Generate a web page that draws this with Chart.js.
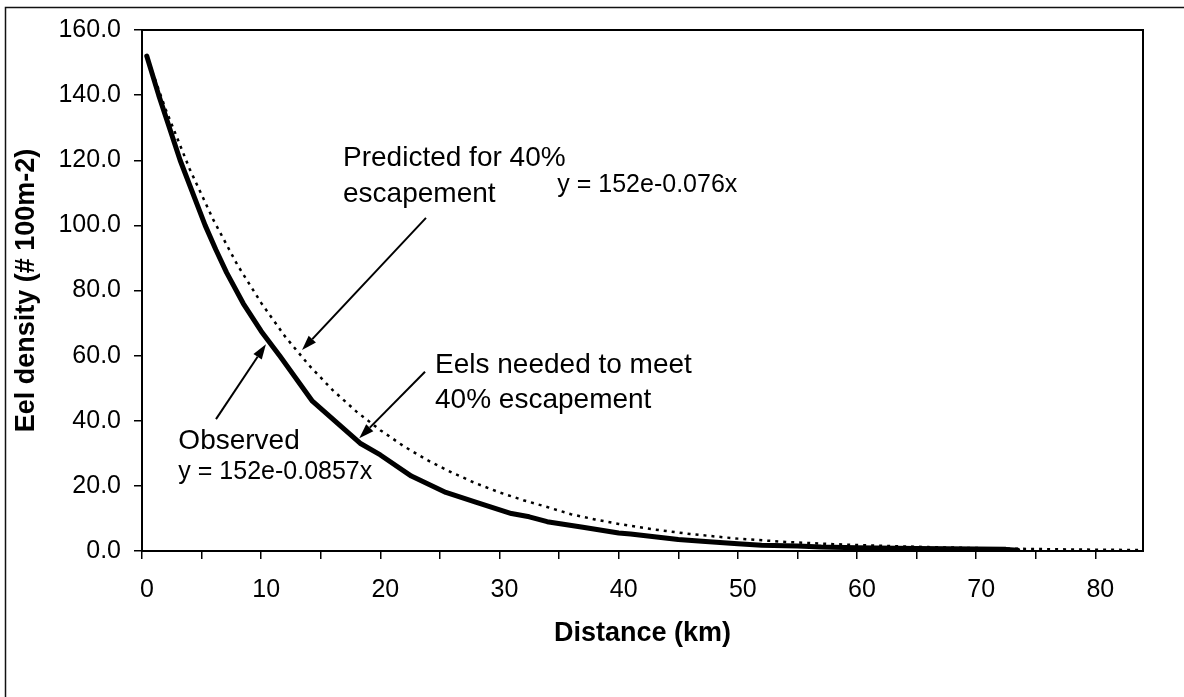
<!DOCTYPE html>
<html><head><meta charset="utf-8">
<script src="https://cdn.jsdelivr.net/npm/chart.js@4.4.1/dist/chart.umd.min.js"></script>
<style>html,body{margin:0;padding:0;background:#fff;overflow:hidden}canvas{display:block}</style>
</head><body>
<canvas id="c" width="1184" height="697"></canvas>
<script>
// Observed eel density (km, #/100m2)
const obsDistance = [0.4, 1.4, 3.2, 5.3, 6.2, 7.1, 8.5, 10, 11.6, 14.3, 18.3, 20, 22.6, 25.5, 28, 31, 32.5, 34, 37, 40, 41, 43, 45, 47, 48.5, 50, 52, 55, 57, 60, 65, 70, 72.5, 73.5];
const obsDensity  = [152, 140, 120, 100, 92.5, 85.5, 76, 67.5, 59.7, 46, 33.1, 29.5, 23, 18, 15, 11.5, 10.5, 9, 7.3, 5.5, 5.2, 4.4, 3.5, 3, 2.6, 2.2, 1.8, 1.5, 1.2, 1, 0.8, 0.6, 0.5, 0.2];
// Predicted density for 40% escapement
const predDistance = [0.4, 2, 4, 6, 8, 10, 12, 14, 16, 18, 20, 22, 24, 26, 28, 30, 32, 34, 36, 38, 40, 43, 46, 50, 54, 58, 62, 66, 70, 75, 80, 84];
const predDensity  = [152, 135.5, 117.3, 101.6, 87.9, 76.2, 65.9, 57.1, 49.4, 42.8, 37.1, 32.1, 27.8, 24.1, 20.8, 18.0, 15.6, 13.5, 11.3, 9.7, 8.3, 6.6, 5.2, 3.8, 2.8, 2.1, 1.6, 1.2, 0.9, 0.6, 0.4, 0.3];

const xLabelStep = 10;
const yTickLabels = ['0.0','20.0','40.0','60.0','80.0','100.0','120.0','140.0','160.0'];

const FONT = '"Liberation Sans", Arial, sans-serif';

// annotations in data coordinates (left/baseline of text)
const noteTexts = [
  {text:'Predicted for 40%', x:16.87, y:118.2, size:28},
  {text:'escapement', x:16.87, y:107.3, size:28},
  {text:'y = 152e-0.076x', x:34.85, y:110.35, size:25},
  {text:'Eels needed to meet', x:24.59, y:54.6, size:28},
  {text:'40% escapement', x:24.59, y:43.8, size:28},
  {text:'Observed', x:3.05, y:31.2, size:28},
  {text:'y = 152e-0.0857x', x:3.05, y:22.1, size:25}
];
const noteArrows = [
  {from:[23.83,102.3], to:[13.43,61.7]},
  {from:[23.75,55.07], to:[18.23,34.6]},
  {from:[6.21,40.5], to:[10.4,63.5]}
];

const obsData = obsDistance.map((x,i)=>({x, y:obsDensity[i]}));
const predData = predDistance.map((x,i)=>({x, y:predDensity[i]}));

const decor = {
  id:'decor',
  afterDatasetsDraw(chart){
    const {ctx, chartArea:a, scales:{x, y}} = chart;
    ctx.save();
    ctx.strokeStyle='#000'; ctx.lineWidth=2;
    ctx.strokeRect(a.left, a.top, a.right-a.left, a.bottom-a.top);
    ctx.lineWidth=1.5; ctx.strokeStyle='#111';
    ctx.beginPath(); ctx.moveTo(5.5, 1000); ctx.lineTo(5.5, 7.5); ctx.lineTo(1300, 7.5); ctx.stroke();
    ctx.fillStyle='#000'; ctx.textBaseline='alphabetic'; ctx.textAlign='left';
    noteTexts.forEach(t=>{
      ctx.font = t.size+'px '+FONT;
      ctx.fillText(t.text, x.getPixelForValue(t.x), y.getPixelForValue(t.y));
    });
    ctx.lineWidth=2; ctx.strokeStyle='#000';
    noteArrows.forEach(ar=>{
      const x1=x.getPixelForValue(ar.from[0]), y1=y.getPixelForValue(ar.from[1]);
      const x2=x.getPixelForValue(ar.to[0]), y2=y.getPixelForValue(ar.to[1]);
      const ang=Math.atan2(y2-y1,x2-x1), L=15, W=5;
      const bx=x2-L*Math.cos(ang), by=y2-L*Math.sin(ang);
      ctx.beginPath(); ctx.moveTo(x1,y1); ctx.lineTo(bx,by); ctx.stroke();
      ctx.beginPath(); ctx.moveTo(x2,y2);
      ctx.lineTo(bx+W*Math.sin(ang), by-W*Math.cos(ang));
      ctx.lineTo(bx-W*Math.sin(ang), by+W*Math.cos(ang));
      ctx.closePath(); ctx.fill();
    });
    ctx.restore();
  }
};

new Chart(document.getElementById('c'), {
  type:'scatter',
  data:{datasets:[
    {label:'Predicted for 40% escapement', data:predData, showLine:true, borderColor:'#000', borderWidth:2.5, borderDash:[3,5], pointRadius:0, tension:0, fill:false},
    {label:'Observed', data:obsData, showLine:true, borderColor:'#000', borderWidth:5, pointRadius:0, tension:0, fill:false, borderJoinStyle:'round', borderCapStyle:'round'}
  ]},
  options:{
    responsive:false, animation:false, devicePixelRatio:1,
    layout:{padding:{top:30, right:41, left:0, bottom:0}},
    plugins:{legend:{display:false}, tooltip:{enabled:false}},
    scales:{
      x:{type:'linear', min:0, max:84,
        afterFit(s){ s.height = 146; },
        border:{display:true, color:'#000', width:2},
        grid:{drawOnChartArea:false, drawTicks:true, tickLength:8, color:'#000', lineWidth:1.5},
        ticks:{stepSize:5, includeBounds:false, autoSkip:false, maxRotation:0, color:'#000', padding:16, labelOffset:5,
          font:{family:FONT, size:25},
          callback:(v)=> (v % xLabelStep === 0 ? String(v) : '')},
        title:{display:true, text:'Distance (km)', color:'#000', font:{family:FONT, size:27, weight:'bold'}, padding:{top:0, bottom:47}}
      },
      y:{type:'linear', min:0, max:160,
        afterFit(s){ s.width = 142; },
        border:{display:true, color:'#000', width:2},
        grid:{drawOnChartArea:false, drawTicks:true, tickLength:8, color:'#000', lineWidth:1.5},
        ticks:{stepSize:20, color:'#000', padding:13, font:{family:FONT, size:25},
          callback:(v)=> yTickLabels[Math.round(v/20)] ?? ''},
        title:{display:true, text:'Eel density (# 100m-2)', color:'#000', font:{family:FONT, size:27, weight:'bold'}, padding:{top:10, bottom:0}}
      }
    }
  },
  plugins:[decor]
});
</script>
</body></html>
